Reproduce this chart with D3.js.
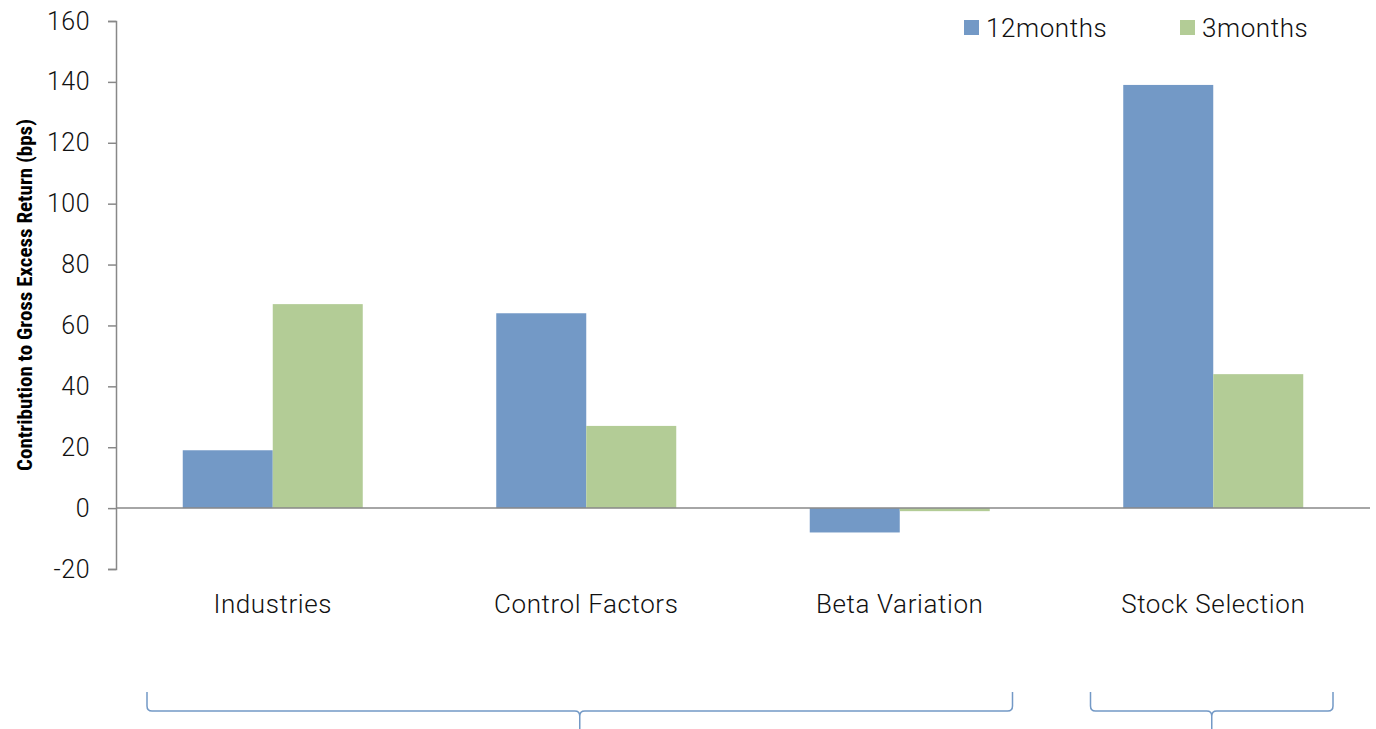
<!DOCTYPE html>
<html>
<head>
<meta charset="utf-8">
<script src="https://cdn.jsdelivr.net/npm/d3@7"></script>
<style>
  html, body { margin: 0; padding: 0; background: #fff; }
  svg { display: block; }
</style>
</head>
<body>
<svg id="chart" width="1376" height="729"></svg>
<script>
// Attribution of gross excess return by source
const categories = ["Industries", "Control Factors", "Beta Variation", "Stock Selection"];
const seriesNames = ["12months", "3months"];
const values12m = [19, 64, -8, 139];
const values3m = [67, 27, -1, 44];
const yTicks = [-20, 0, 20, 40, 60, 80, 100, 120, 140, 160];
const colors = ["#7399C6", "#B3CC96"];

const svg = d3.select("#chart");
const W = 1376, H = 729;
const margin = { left: 116, right: 6, top: 21, bottom: 160 };
const textFont = "Roboto, 'Liberation Sans', sans-serif";

const x = d3.scaleBand()
  .domain(categories)
  .range([margin.left, W - margin.right]);

const x1 = d3.scaleBand()
  .domain(seriesNames)
  .range([0, 180]);

const y = d3.scaleLinear()
  .domain([-20, 160])
  .range([569, 21]);

const rows = categories.map((c, i) => ({ cat: c, vals: [values12m[i], values3m[i]] }));

// bars
const groups = svg.append("g").selectAll("g")
  .data(rows).join("g")
  .attr("transform", d => `translate(${x(d.cat) + x.bandwidth() / 2 - 90},0)`);

groups.selectAll("rect")
  .data(d => d.vals.map((v, k) => ({ v, k })))
  .join("rect")
  .attr("x", d => x1(seriesNames[d.k]))
  .attr("width", x1.bandwidth())
  .attr("y", d => y(Math.max(0, d.v)))
  .attr("height", d => Math.abs(y(d.v) - y(0)))
  .attr("fill", d => colors[d.k]);

// zero line
svg.append("line")
  .attr("x1", margin.left).attr("x2", W - margin.right)
  .attr("y1", y(0)).attr("y2", y(0))
  .attr("stroke", "#888").attr("stroke-width", 1.5);

// y axis
const yAxis = d3.axisLeft(y).tickValues(yTicks).tickSize(8).tickPadding(18).tickFormat(d => String(d));
const gy = svg.append("g").attr("transform", `translate(${margin.left},0)`).call(yAxis);
gy.select(".domain").attr("stroke", "#888").attr("stroke-width", 1.5);
gy.selectAll(".tick line").attr("stroke", "#888").attr("stroke-width", 1.5);
gy.selectAll(".tick text")
  .attr("fill", "#111")
  .style("font-family", textFont)
  .style("font-weight", 300)
  .style("font-size", "25px")
  .style("letter-spacing", "0.5px");

// y axis title
svg.append("text")
  .attr("transform", `translate(32,${y(70)}) rotate(-90)`)
  .attr("text-anchor", "middle")
  .style("font-family", "'Liberation Sans Narrow', 'Roboto Condensed', 'Liberation Sans', sans-serif")
  .style("font-weight", "bold")
  .style("font-size", "21px")
  .attr("fill", "#000")
  .text("Contribution to Gross Excess Return (bps)");

// category labels
svg.append("g").selectAll("text")
  .data(categories).join("text")
  .attr("x", d => x(d) + x.bandwidth() / 2)
  .attr("y", 613)
  .attr("text-anchor", "middle")
  .style("font-family", textFont)
  .style("font-weight", 300)
  .style("font-size", "26px")
  .style("letter-spacing", "0.6px")
  .attr("fill", "#111")
  .text(d => d);

// legend
const legendX = [964, 1180];
const legend = svg.append("g").selectAll("g")
  .data(seriesNames).join("g")
  .attr("transform", (d, i) => `translate(${legendX[i]},20)`);
legend.append("rect").attr("width", 15).attr("height", 15).attr("fill", (d, i) => colors[i]);
legend.append("text")
  .attr("x", 22).attr("y", 17)
  .style("font-family", textFont)
  .style("font-weight", 300)
  .style("font-size", "26px")
  .style("letter-spacing", "0.6px")
  .attr("fill", "#111")
  .text(d => d);

// curly braces grouping the categories
function brace(x0, x2, top, mid, bottom) {
  const xm = (x0 + x2) / 2;
  const r = 5;
  return `M${x0},${top} L${x0},${mid - r} Q${x0},${mid} ${x0 + r},${mid} ` +
         `L${xm - r},${mid} Q${xm},${mid} ${xm},${mid + r} L${xm},${bottom} ` +
         `M${xm},${mid + r} Q${xm},${mid} ${xm + r},${mid} ` +
         `L${x2 - r},${mid} Q${x2},${mid} ${x2},${mid - r} L${x2},${top}`;
}
const braceSpans = [
  [x("Industries") + 31, x("Beta Variation") + x.bandwidth() - 44],
  [x("Stock Selection") + 34, x("Stock Selection") + x.bandwidth() - 37]
];
svg.append("g").selectAll("path")
  .data(braceSpans).join("path")
  .attr("d", d => brace(d[0], d[1], 692, 711, 729))
  .attr("fill", "none")
  .attr("stroke", "#7399C6")
  .attr("stroke-width", 1.5);
</script>
</body>
</html>
